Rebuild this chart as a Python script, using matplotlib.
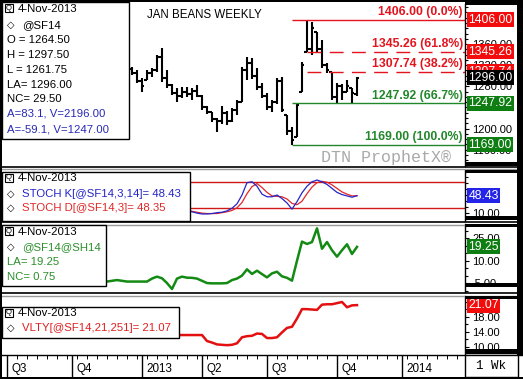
import numpy as np
import matplotlib.pyplot as plt
from matplotlib.patches import Rectangle

plt.rcParams['font.family'] = ['Liberation Sans', 'DejaVu Sans']

W, H = 523, 379

# weekly bars of Jan 2014 soybeans, week 0 = 4-Nov-2013
bar_weeks = np.arange(-45, 1)
opens = [1312, 1305, 1290, 1292, 1305, 1310, 1335, 1295, 1282, 1268, 1262, 1270,
         1265, 1272, 1262, 1240, 1231, 1218, 1215, 1230, 1215, 1235, 1250, 1310,
         1325, 1300, 1278, 1262, 1240, 1250, 1290, 1225, 1195, 1184, 1269, 1345,
         1350, 1383, 1350, 1320, 1307, 1260, 1280, 1270, 1277, 1264.5]
highs = [1317, 1311, 1296, 1311, 1315, 1340, 1353, 1311, 1285, 1277, 1279, 1279,
         1277, 1283, 1264, 1243, 1231, 1220, 1243, 1234, 1239, 1254, 1317, 1336,
         1334, 1315, 1286, 1267, 1254, 1296, 1298, 1225, 1203, 1249, 1326, 1406,
         1402, 1383, 1368, 1324, 1307, 1286, 1284, 1292, 1277, 1297.5]
lows = [1302, 1287, 1269, 1292, 1298, 1307, 1288, 1277, 1264, 1250, 1258, 1260,
        1254, 1260, 1235, 1228, 1213, 1194, 1209, 1207, 1213, 1226, 1250, 1292,
        1294, 1273, 1258, 1235, 1231, 1247, 1231, 1188, 1169, 1184, 1269, 1345,
        1339, 1345, 1315, 1305, 1254, 1248, 1254, 1269, 1248, 1261.75]
closes = [1305, 1290, 1280, 1305, 1310, 1335, 1295, 1282, 1268, 1262, 1270, 1265,
          1272, 1262, 1240, 1232, 1218, 1215, 1230, 1215, 1235, 1250, 1310, 1325,
          1300, 1278, 1262, 1240, 1250, 1290, 1235, 1195, 1178, 1245, 1320, 1350,
          1390, 1350, 1320, 1310, 1260, 1280, 1270, 1280, 1266.5, 1296]

# retracement levels
fib_levels = [1406.00, 1345.26, 1307.74, 1247.92, 1169.00]
fib_labels = ['1406.00 (0.0%)', '1345.26 (61.8%)', '1307.74 (38.2%)',
              '1247.92 (66.7%)', '1169.00 (100.0%)']
fib_start = [-13, -10, -10, -13, -13]
fib_colors = ['#e3141e', '#e3141e', '#e3141e', '#22862a', '#22862a']
fib_dashed = [False, True, True, False, False]

# stochastics
stoch_weeks = np.arange(-34, 1)
stoch_k = [14, 12, 9, 7, 7, 8, 10, 11, 14, 20, 30, 50, 78, 80, 70, 52, 46, 46,
           50, 42, 32, 18, 35, 55, 70, 80, 84, 80, 74, 65, 56, 51, 48, 45, 48.43]
stoch_d = [15, 13, 11, 9, 8, 8, 8, 10, 12, 15, 21, 33, 53, 69, 76, 67, 56, 48,
           47, 46, 41, 31, 28, 36, 53, 68, 78, 81, 79, 73, 65, 57, 52, 48, 48.35]

# Jan/Mar spread
spread_weeks = np.arange(-51, 1)
spread = [-4, -4, -3.5, -3, -3.5, -4, -4, -4, -4, -4, -2, -0.7, -1.8, -5, -9, -2,
          -0.7, -1.4, -1.5, -2, -3.5, -5, -5.2, -5.2, -5.2, -5, -3, -2, 0, 4.2,
          1.1, 3.3, 1, -1.2, 1.5, 2.6, -0.5, -1.5, -3.4, 10, 22.8, 21.2, 22.5,
          31.7, 18, 22.5, 17, 12.7, 17, 21, 14.5, 19.25]
spread_nc = 0.75

# historical volatility
vol_weeks = np.arange(-36, 1)
vlty = [13.1, 13.1, 13.1, 13.1, 13.1, 13.1, 11.5, 11.1, 10.6, 10.5, 10.4, 10.5,
        10.9, 12.5, 12.8, 12.9, 13.5, 13.4, 12.3, 12.3, 12.5, 13.8, 15.0, 15.3,
        17.5, 20.0, 20.0, 19.9, 19.8, 21.2, 21.3, 21.3, 21.6, 21.9, 20.5, 21.0,
        21.07]

# time axis
quarter_weeks = [-70, -57, -43, -31, -18, -4, 9]
quarter_labels = ['Q3', 'Q4', '2013', 'Q2', 'Q3', 'Q4', '2014']
XLIM = (-70.8, 21.6)

RED_BOX = '#f20c0c'
GREEN_BOX = '#0e7d12'
BLUE_BOX = '#2424e8'
LEG_FS = 8.2


def fx(x):
    return x / W


def fy(y):
    return 1 - y / H


def add_panel(fig, x0, y0, x1, y1):
    ax = fig.add_axes([fx(x0), fy(y1), (x1 - x0) / W, (y1 - y0) / H])
    ax.set_xlim(*XLIM)
    for side in ['left', 'top', 'bottom']:
        ax.spines[side].set_visible(False)
    ax.spines['right'].set_linewidth(1)
    ax.yaxis.tick_right()
    ax.set_xticks([])
    ax.tick_params(axis='y', which='major', direction='out', length=3,
                   width=0.8, labelsize=8, pad=2)
    ax.tick_params(axis='y', which='minor', direction='out', length=2, width=0.8)
    return ax


def fig_rect(fig, x0, y0, x1, y1, fc, ec='none', lw=0, z=4):
    fig.patches.append(Rectangle((fx(x0), fy(y1)), (x1 - x0) / W, (y1 - y0) / H,
                                 transform=fig.transFigure, fc=fc, ec=ec,
                                 lw=lw, zorder=z))


def value_box(ax, value, text, color, z=6):
    ax.annotate(text, xy=(1, value), xycoords=('axes fraction', 'data'),
                xytext=(2.5, 0), textcoords='offset points', ha='left',
                va='center', fontsize=8.8, color='white', annotation_clip=False,
                bbox=dict(boxstyle='square,pad=0.12', fc=color, ec='none'),
                zorder=z)


def legend_box(fig, x0, y0, x1, y1, rows):
    fig_rect(fig, x0, y0, x1, y1, 'white', 'black', 1, z=5)
    # small magnifier icon
    fig_rect(fig, x0 + 3, y0 + 2, x0 + 11, y0 + 10, 'white', 'black', 0.8, z=6)
    fig.text(fx(x0 + 7), fy(y0 + 6), 'Q', fontsize=5.5, ha='center',
             va='center', zorder=7)
    for x, y, s, color, diamond in rows:
        if diamond:
            fig.text(fx(x0 + 5), fy(y), '\u25c7', fontsize=7, fontweight='bold',
                     family='DejaVu Sans', ha='left', va='center', zorder=7)
        fig.text(fx(x), fy(y), s, color=color, fontsize=LEG_FS, ha='left',
                 va='center', zorder=7)


def draw_main(fig):
    ax = add_panel(fig, 3, 4, 465, 166)
    ax.set_ylim(1129, 1436)
    ax.set_yticks(np.arange(1160, 1401, 40))
    ax.set_yticklabels(['%.2f' % v for v in np.arange(1160, 1401, 40)])
    ax.set_yticks(np.arange(1130, 1431, 10), minor=True)

    ax.vlines(bar_weeks, lows, highs, color='black', lw=1.5)
    ax.hlines(opens, bar_weeks - 0.5, bar_weeks, color='black', lw=1.5)
    ax.hlines(closes, bar_weeks, bar_weeks + 0.5, color='black', lw=1.5)

    for lvl, lab, x0, col, dashed in zip(fib_levels, fib_labels, fib_start,
                                         fib_colors, fib_dashed):
        ls = (0, (10, 6)) if dashed else '-'
        ax.hlines(lvl, x0, XLIM[1], color=col, lw=1, linestyles=[ls])
        ax.annotate(lab, xy=(21.2, lvl), xytext=(0, 1.2), textcoords='offset points',
                    ha='right', va='bottom', color=col, fontsize=8.8,
                    fontweight='bold', zorder=5,
                    bbox=dict(boxstyle='square,pad=0.05', fc='white', ec='none'))

    ax.text(0.435, 0.93, 'JAN BEANS WEEKLY', transform=ax.transAxes,
            ha='center', va='center', fontsize=8.3)
    ax.text(0.97, 0.055, 'DTN ProphetX\u00ae', transform=ax.transAxes,
            ha='right', va='center', fontsize=12, color='#a9a9a9',
            family='Liberation Mono')

    value_box(ax, 1406.00, '1406.00', RED_BOX)
    value_box(ax, 1345.26, '1345.26', RED_BOX)
    value_box(ax, 1307.74, '1307.74', RED_BOX)
    value_box(ax, closes[-1], '%.2f' % closes[-1], 'black', z=7)
    value_box(ax, 1247.92, '1247.92', GREEN_BOX)
    value_box(ax, 1169.00, '1169.00', GREEN_BOX)

    blue = '#2828b8'
    rows = [(18, 9.5, '4-Nov-2013', 'black', False),
            (22, 25, '@SF14', 'black', True),
            (7, 40, 'O = %.2f' % opens[-1], 'black', False),
            (7, 55, 'H = %.2f' % highs[-1], 'black', False),
            (7, 70, 'L = %.2f' % lows[-1], 'black', False),
            (7, 85, 'LA= %.2f' % closes[-1], 'black', False),
            (7, 99, 'NC= %.2f' % (closes[-1] - closes[-2]), 'black', False),
            (7, 114, 'A=83.1, V=2196.00', blue, False),
            (7, 129, 'A=-59.1, V=1247.00', blue, False)]
    legend_box(fig, 2, 2, 129, 139, rows)


def draw_stoch(fig):
    ax = add_panel(fig, 3, 170, 465, 221)
    ax.set_ylim(-8.9, 106.7)
    ax.set_yticks([10])
    ax.set_yticklabels(['10.00'])
    ax.set_yticks([-3.3, 23.3, 36.7, 50, 63.3, 76.7, 90, 103.3], minor=True)
    ax.axhline(80, color='#d01818', lw=1)
    ax.axhline(20, color='#d01818', lw=1)
    ax.plot(stoch_weeks, stoch_d, color='#e02828', lw=0.9)
    ax.plot(stoch_weeks, stoch_k, color='#2424c8', lw=0.9)
    value_box(ax, stoch_k[-1], '%.2f' % stoch_k[-1], BLUE_BOX)
    rows = [(18, 178.5, '4-Nov-2013', 'black', False),
            (22, 194, 'STOCH K[@SF14,3,14]= %.2f' % stoch_k[-1], '#2424c8', True),
            (22, 208, 'STOCH D[@SF14,3]= %.2f' % stoch_d[-1], '#e02828', True)]
    legend_box(fig, 2, 172, 190, 221, rows)


def draw_spread(fig):
    ax = add_panel(fig, 3, 224, 465, 292)
    ax.set_ylim(-11.0, 34.6)
    ax.set_yticks([-5, 10, 25])
    ax.set_yticklabels(['-5.00', '10.00', '25.00'])
    ax.set_yticks([-10, 0, 5, 15, 20, 30], minor=True)
    ax.plot(spread_weeks, spread, color='#138a13', lw=1.8)
    value_box(ax, spread[-1], '%.2f' % spread[-1], GREEN_BOX)
    green = '#2a8f2a'
    rows = [(18, 232, '4-Nov-2013', 'black', False),
            (22, 247, '@SF14@SH14', green, True),
            (7, 262, 'LA= %.2f' % spread[-1], green, False),
            (7, 277, 'NC= %.2f' % spread_nc, green, False)]
    legend_box(fig, 2, 225, 106, 286, rows)


def draw_vol(fig):
    ax = add_panel(fig, 3, 296, 465, 354)
    ax.set_ylim(8.05, 23.5)
    ax.set_yticks([10, 14, 18, 22])
    ax.set_yticklabels(['10.00', '14.00', '18.00', '22.00'])
    ax.set_yticks([12, 16, 20], minor=True)
    ax.plot(vol_weeks, vlty, color='#e41010', lw=1.8)
    value_box(ax, vlty[-1], '%.2f' % vlty[-1], RED_BOX)
    rows = [(18, 313, '4-Nov-2013', 'black', False),
            (22, 328, 'VLTY[@SF14,21,251]= %.2f' % vlty[-1], '#e02020', True)]
    legend_box(fig, 2, 307, 179, 338, rows)


def draw_dates(fig):
    ax = fig.add_axes([fx(3), fy(377), 462 / W, 22 / H])
    ax.set_xlim(*XLIM)
    ax.set_ylim(0, 1)
    ax.axis('off')
    ax.vlines(quarter_weeks, 0, 1, color='black', lw=1)
    ax.vlines(np.arange(-70, 21, 2), 0.8, 1, color='black', lw=0.7)
    for wk, lab in zip(quarter_weeks, quarter_labels):
        ax.annotate(lab, xy=(wk, 0.36), xytext=(3.5, 0), textcoords='offset points',
                    ha='left', va='center', fontsize=8.4)
    fig_rect(fig, 465, 355, 518, 377, 'white', 'black', 1, z=5)
    fig.text(fx(491), fy(366), '1 Wk', family='Liberation Mono', fontsize=9,
             ha='center', va='center', zorder=6)


def draw_frame(fig):
    # panel separators
    for y in [167, 222, 293]:
        fig.add_artist(plt.Line2D([0, 1], [fy(y), fy(y)], color='black', lw=1.2))
        fig.add_artist(plt.Line2D([0, 1], [fy(y + 2.5), fy(y + 2.5)],
                                  color='#9a9a9a', lw=1))
    fig.add_artist(plt.Line2D([0, 1], [fy(355), fy(355)], color='black', lw=1))
    # right-hand scale caps
    for y0, y1 in [(0, 5), (162, 166), (170, 173), (216, 220), (224, 227),
                   (283, 287), (296, 299), (349, 354)]:
        fig_rect(fig, 465, y0, 523, y1, 'black', z=8)
    fig_rect(fig, 517, 0, 523, 355, 'black', z=8)
    # outer border
    fig_rect(fig, 0, 0, 2, 379, 'black', z=8)
    fig_rect(fig, 0, 0, 523, 1.5, 'black', z=8)
    fig_rect(fig, 0, 377, 523, 379, 'black', z=8)


def main():
    fig = plt.figure(figsize=(W / 100, H / 100), dpi=100)
    draw_main(fig)
    draw_stoch(fig)
    draw_spread(fig)
    draw_vol(fig)
    draw_dates(fig)
    draw_frame(fig)
    fig.savefig('out.png', dpi=100)
    plt.close(fig)


if __name__ == '__main__':
    main()
